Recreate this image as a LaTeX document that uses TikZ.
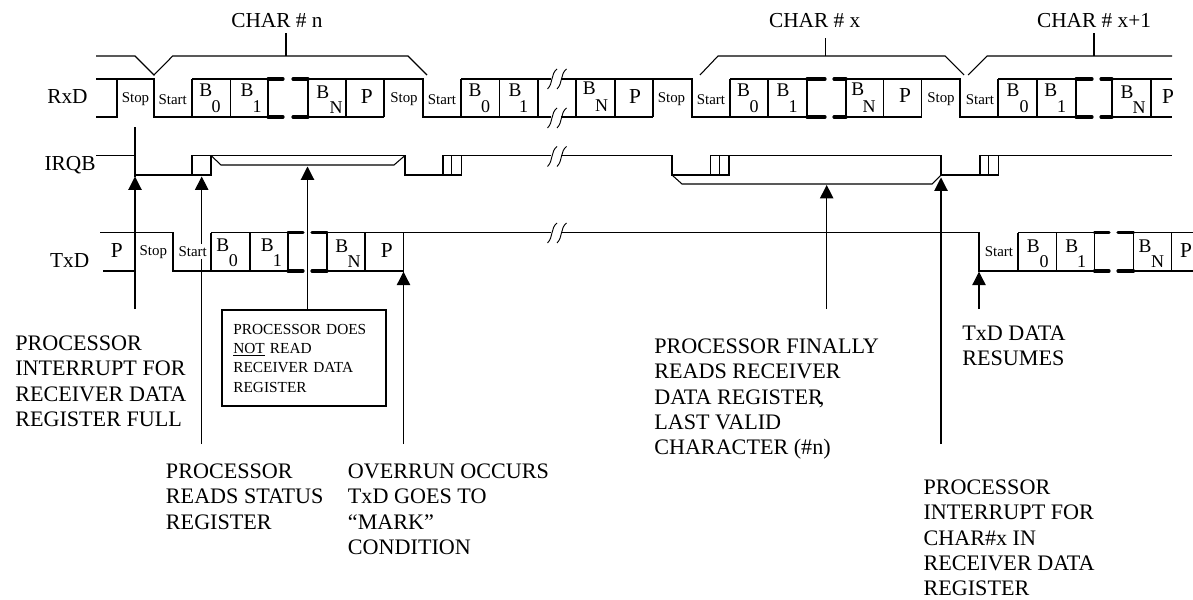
\documentclass[tikz,border=0pt]{standalone}
\usepackage{fontspec}
\setmainfont{Liberation Serif}
\usepackage{tikz}
\usetikzlibrary{arrows.meta}
\tikzstyle{wire}=[line width=0.8pt]
\tikzstyle{gapbar}=[line width=2.4pt, line cap=round]
\tikzstyle{breakmark}=[line width=0.7pt]
\tikzstyle{pointer}=[wire, -{Triangle[length=10pt, width=10pt]}]
\tikzstyle{framelabel}=[inner sep=0pt, font=\fontsize{11.2}{13}\selectfont]
\tikzstyle{bitlabel}=[inner sep=0pt, font=\fontsize{14.5}{16}\selectfont]
\tikzstyle{sublabel}=[inner sep=0pt, font=\fontsize{13.5}{15}\selectfont]
\tikzstyle{paritylabel}=[inner sep=0pt, font=\fontsize{16}{19}\selectfont]
\tikzstyle{title}=[inner sep=0pt, font=\fontsize{16}{19}\selectfont]
\tikzstyle{note}=[anchor=north west, align=left, inner sep=0pt, font=\fontsize{16.6}{19}\selectfont]
\tikzstyle{notebox}=[draw, line width=1.5pt, anchor=north west, align=left, inner xsep=8.5pt, inner ysep=0pt, text width=106pt, minimum width=122.5pt, minimum height=72pt, font=\fontsize{11.5}{14.5}\selectfont]

\begin{document}
\begin{tikzpicture}[x=0.75pt, y=-0.75pt]
        \useasboundingbox (0, 0) rectangle (1193, 600);

        \coordinate (tipStop) at (135, 176.5);
        \coordinate (tipStatus) at (201.7, 176.5);
        \coordinate (tipNoRead) at (307.5, 166.5);
        \coordinate (tipOverrun) at (403.5, 271.7);
        \coordinate (tipFinal) at (826.7, 185);
        \coordinate (tipCharX) at (941, 177.5);
        \coordinate (tipResume) at (979, 271.7);
        \coordinate (tailStop) at (135, 309);
        \coordinate (stubStop) at (135, 127);
        \coordinate (tailStatus) at (201.7, 444);
        \coordinate (tailOverrun) at (403.5, 444);
        \coordinate (tailFinal) at (826.7, 309);
        \coordinate (tailCharX) at (941, 444);
        \coordinate (tailResume) at (979, 309);

        \node[title] (charN) at (277, 21) {CHAR \# n};
        \node[title] (charX) at (814.7, 21) {CHAR \# x};
        \node[title] (charXnext) at (1094, 21) {CHAR \# x+1};
        \coordinate (tickN) at (286, 33);
        \coordinate (tickX) at (825.7, 38);
        \coordinate (tickXnext) at (1094, 33);

        \draw[wire] (96, 56) -- (135, 56) -- (154, 75) -- (172.7, 56) -- (408, 56) -- (427, 75);
        \draw[wire] (700, 75) -- (718, 56) -- (945, 56) -- (964, 75);
        \draw[wire] (968, 75) -- (987, 56) -- (1172, 56);
        \draw[wire] (tickN) -- (tickN |- 0, 56);
        \draw[wire] (tickX) -- (tickX |- 0, 56);
        \draw[wire] (tickXnext) -- (tickXnext |- 0, 56);

        \node[title] (rxd) at (67.5, 97) {RxD};
        \node[title] (irqb) at (70, 165) {IRQB};
        \node[title] (txd) at (69.7, 260.7) {TxD};

        \draw[wire] (96, 79) -- (154, 79) -- (154, 117) -- (268, 117) -- (268, 79) -- (192, 79);
        \draw[wire] (96, 117) -- (117, 117) -- (117, 79);
        \draw[wire] (308, 79) -- (423, 79) -- (423, 117) -- (551, 117);
        \draw[wire] (384, 117) -- (308, 117) -- (308, 79);
        \draw[wire] (461, 79) -- (551, 79);
        \draw[wire] (561, 79) -- (692, 79) -- (692, 117) -- (807, 117) -- (807, 79) -- (730, 79);
        \draw[wire] (561, 117) -- (653, 117);
        \draw[wire] (921.5, 117) -- (846, 117) -- (846, 79) -- (960, 79) -- (960, 117) -- (1076, 117) -- (1076, 79) -- (998, 79);
        \draw[wire] (1172, 79) -- (1112, 79) -- (1112, 117) -- (1172, 117);
        \foreach \x in {192, 230.5, 346, 384, 461, 499.5, 538, 576, 615, 653, 730, 768, 883.5, 921.5, 998, 1037, 1151}
            \draw[wire] (\x, 79) -- (\x, 117);

        \draw[wire] (96, 155.5) -- (135, 155.5) -- (135, 175) -- (192, 175) -- (192, 155.5) -- (405, 155.5) -- (405, 175) -- (443, 175) -- (443, 155.5) -- (551, 155.5);
        \draw[wire] (561, 155.5) -- (672, 155.5) -- (672, 175) -- (710.5, 175) -- (710.5, 155.5) -- (941, 155.5) -- (941, 175) -- (980, 175) -- (980, 155.5) -- (1172, 155.5);
        \draw[wire] (192, 175) -- (211, 175) -- (211, 155.5);
        \draw[wire] (443, 175) -- (461.7, 175) -- (461.7, 155.5);
        \draw[wire] (710.5, 175) -- (729, 175) -- (729, 155.5);
        \draw[wire] (980, 175) -- (998.6, 175) -- (998.6, 155.5);
        \foreach \x in {451.5, 719.5, 988.5}
            \draw[wire] (\x, 155.5) -- (\x, 175);
        \draw[wire] (211, 155.5) -- (221, 165) -- (394, 165) -- (405, 155.5);
        \draw[wire] (672, 175) -- (682, 184) -- (932, 184) -- (941, 175);

        \draw[wire] (100, 232.7) -- (173, 232.7) -- (173, 271) -- (288, 271) -- (288, 232.7) -- (211, 232.7);
        \draw[wire] (103, 271) -- (135, 271);
        \draw[wire] (403.5, 271) -- (327, 271) -- (327, 232.7) -- (551, 232.7);
        \draw[wire] (561, 232.7) -- (979, 232.7) -- (979, 271) -- (1094.5, 271) -- (1094.5, 232.7) -- (1018, 232.7);
        \draw[wire] (1193, 232.7) -- (1133.5, 232.7) -- (1133.5, 271) -- (1193, 271);
        \foreach \x in {211, 250, 365, 403.5, 1018, 1056.5, 1171.5}
            \draw[wire] (\x, 232.7) -- (\x, 271);

        \draw[gapbar] (268, 79) -- (283, 79) (293, 79) -- (308, 79) (268, 117) -- (283, 117) (293, 117) -- (308, 117);
        \draw[gapbar] (807, 79) -- (825, 79) (834, 79) -- (846, 79) (807, 117) -- (825, 117) (834, 117) -- (846, 117);
        \draw[gapbar] (1076, 79) -- (1092, 79) (1101, 79) -- (1112, 79) (1076, 117) -- (1092, 117) (1101, 117) -- (1112, 117);
        \draw[gapbar] (288, 232.7) -- (303, 232.7) (312, 232.7) -- (327, 232.7) (288, 271) -- (303, 271) (312, 271) -- (327, 271);
        \draw[gapbar] (1094.5, 232.7) -- (1109, 232.7) (1118, 232.7) -- (1133.5, 232.7) (1094.5, 271) -- (1109, 271) (1118, 271) -- (1133.5, 271);

        \foreach \y in {79, 118, 156.5, 233}
            \foreach \x in {547.5, 557}
                \draw[breakmark] (\x, \y + 10) .. controls (\x + 6, \y + 4) and (\x + 3, \y - 5) .. (\x + 9.5, \y - 10);

        \draw[wire] (stubStop) -- (tipStop);
        \draw[pointer] (tailStop) -- (tipStop);
        \draw[pointer] (tailStatus) -- (tipStatus);
        \draw[pointer] (tailOverrun) -- (tipOverrun);
        \draw[pointer] (tailFinal) -- (tipFinal);
        \draw[pointer] (tailCharX) -- (tipCharX);
        \draw[pointer] (tailResume) -- (tipResume);

        \foreach \nm/\x/\y in {stopA/135.5/99.5, stopB/404/99.5, stopC/671.5/99.5, stopD/941/99.5, stopE/153.3/251.7}
            \node[framelabel] (\nm) at (\x, \y) {Stop};
        \foreach \nm/\x/\y in {startA/172.7/99.5, startB/442/99.5, startC/711/99.5, startD/980/99.5, startF/999/251.5}
            \node[framelabel] (\nm) at (\x, \y) {Start};
        \node[framelabel, fill=white, inner ysep=2pt] (startE) at (192.7, 251.5) {Start};

        \foreach \nm/\x/\y/\t in {bA/205.7/90.5/B, bB/247/90.5/B, bC/322.7/92/B, bD/475/90.5/B, bE/515/90.5/B, bF/589.3/88.5/B, bG/743.5/90.5/B, bH/783/90.5/B, bI/857.7/89.5/B, bJ/1013/90.5/B, bK/1050.7/90.5/B, bL/1127/92/B, bM/222.7/245.5/B, bN/267.3/245.5/B, bO/341.7/246.5/B, bP/1033.3/246.5/B, bQ/1071.7/246.5/B, bR/1145/246.5/B}
            \node[bitlabel] (\nm) at (\x, \y) {\t};
        \foreach \nm/\x/\y/\t in {sA/216/107/0, sB/257/107/1, sC/336/108/N, sD/485.7/107/0, sE/523.7/107/1, sF/601.7/105.5/N, sG/754/107/0, sH/793/107/1, sI/869/107/N, sJ/1024/107/0, sK/1061.7/107/1, sL/1139/108/N, sM/233.3/261/0, sN/277.3/261/1, sO/354/262/N, sP/1044/262/0, sQ/1081.7/262/1, sR/1157.7/262/N}
            \node[sublabel] (\nm) at (\x, \y) {\t};
        \foreach \nm/\x/\y in {pA/366.7/97, pB/635/97, pC/905/95.5, pD/1168/97, pE/116.7/250.7, pF/386.7/251, pG/1186/251}
            \node[paritylabel] (\nm) at (\x, \y) {P};

        \node[notebox] (noRead) at (221, 309) {PROCESSOR DOES\\\underline{NOT} READ\\RECEIVER DATA\\REGISTER};
        \draw[pointer] (noRead.north -| tipNoRead) -- (tipNoRead);

        \node[note] (noteStop) at (15, 335.5) {PROCESSOR\\INTERRUPT FOR\\RECEIVER DATA\\REGISTER FULL};
        \node[note] (noteStatus) at (165.7, 463.5) {PROCESSOR\\READS STATUS\\REGISTER};
        \node[note] (noteOverrun) at (347.7, 463.5) {OVERRUN OCCURS\\TxD GOES TO\\“MARK”\\CONDITION};
        \node[note] (noteFinal) at (654, 338.5) {PROCESSOR FINALLY\\READS RECEIVER\\DATA REGISTER\kern-3pt,\\LAST VALID\\CHARACTER (\#n)};
        \node[note] (noteResume) at (962, 325.5) {TxD DATA\\RESUMES};
        \node[note] (noteCharX) at (923.3, 479.5) {PROCESSOR\\INTERRUPT FOR\\CHAR\#x IN\\RECEIVER DATA\\REGISTER};
    \end{tikzpicture}
\end{document}
